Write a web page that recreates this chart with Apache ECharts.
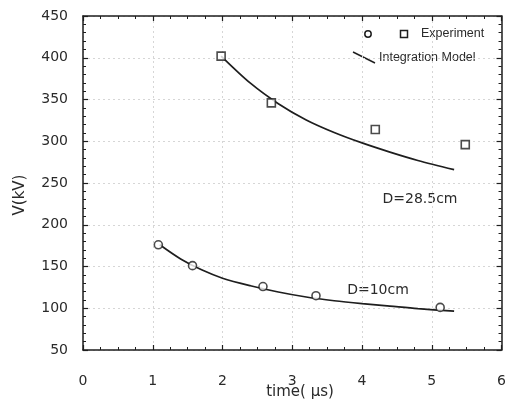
<!DOCTYPE html>
<html>
<head>
<meta charset="utf-8">
<script src="https://cdn.jsdelivr.net/npm/echarts@6/dist/echarts.min.js"></script>
<style>
  html, body { margin: 0; padding: 0; background: #fff; }
  #chart { width: 509px; height: 417px; }
</style>
</head>
<body>
<div id="chart"></div>
<script>
// Measured points, D = 10 cm (circles)
var expTime10 = [1.08, 1.57, 2.58, 3.34, 5.12];
var expVolt10 = [176, 151, 126, 115, 101];
// Measured points, D = 28.5 cm (squares)
var expTime285 = [1.98, 2.70, 4.19, 5.48];
var expVolt285 = [402, 346, 314, 296];
// Integration model curves
var modelTime10 = [1.10, 1.40, 1.70, 2.00, 2.40, 2.80, 3.20, 3.60, 4.00, 4.40, 4.80, 5.32];
var modelVolt10 = [176, 159, 146, 136, 127, 119.5, 113.5, 109, 105.5, 102.5, 99.5, 96.5];
var modelTime285 = [1.98, 2.40, 2.80, 3.20, 3.60, 4.00, 4.40, 4.80, 5.32];
var modelVolt285 = [402, 369.5, 345, 325.5, 310.5, 298, 287, 277, 266];
// Axis ticks
var xTicks = [0, 1, 2, 3, 4, 5, 6];
var yTicks = [50, 100, 150, 200, 250, 300, 350, 400, 450];

function pairs(xs, ys) {
  return xs.map(function (x, i) { return [x, ys[i]]; });
}

var ink = '#1e1e1e';
var textInk = '#2a2a2a';
var labelFont = 'DejaVu Sans';

var chart = echarts.init(document.getElementById('chart'), null, { renderer: 'canvas' });

var tickInside = { show: true, inside: true, length: 5, lineStyle: { color: ink, width: 1.2 } };
var minorInside = function (n) {
  return { show: true, splitNumber: n, length: 3, lineStyle: { color: ink, width: 1 } };
};
var gridLine = { show: true, lineStyle: { color: '#d6d6d6', type: [2, 3], width: 1 } };

var option = {
  animation: false,
  backgroundColor: '#fff',
  grid: { left: 83, right: 2, top: 16, bottom: 67, containLabel: false },
  xAxis: [{
    type: 'value',
    min: xTicks[0], max: xTicks[xTicks.length - 1], interval: 1,
    axisLine: { show: true, onZero: false, lineStyle: { color: ink, width: 1.5 } },
    axisTick: tickInside,
    minorTick: minorInside(4),
    splitLine: gridLine,
    axisLabel: { margin: 24, color: textInk, fontFamily: labelFont, fontSize: 14 }
  }, {
    type: 'value', position: 'top',
    min: xTicks[0], max: xTicks[xTicks.length - 1], interval: 1,
    axisLine: { show: true, onZero: false, lineStyle: { color: ink, width: 1.5 } },
    axisTick: tickInside,
    minorTick: minorInside(4),
    splitLine: { show: false },
    axisLabel: { show: false }
  }],
  yAxis: [{
    type: 'value',
    min: yTicks[0], max: yTicks[yTicks.length - 1], interval: 50,
    axisLine: { show: true, onZero: false, lineStyle: { color: ink, width: 1.5 } },
    axisTick: tickInside,
    minorTick: minorInside(5),
    splitLine: gridLine,
    axisLabel: { margin: 15, color: textInk, fontFamily: labelFont, fontSize: 14 }
  }, {
    type: 'value', position: 'right',
    min: yTicks[0], max: yTicks[yTicks.length - 1], interval: 50,
    axisLine: { show: true, onZero: false, lineStyle: { color: ink, width: 1.5 } },
    axisTick: tickInside,
    minorTick: minorInside(5),
    splitLine: { show: false },
    axisLabel: { show: false }
  }],
  series: [{
    name: 'Integration Model (D=28.5cm)',
    type: 'line', smooth: 0.3, showSymbol: false,
    data: pairs(modelTime285, modelVolt285),
    lineStyle: { color: ink, width: 1.7 }, z: 2
  }, {
    name: 'Integration Model (D=10cm)',
    type: 'line', smooth: 0.3, showSymbol: false,
    data: pairs(modelTime10, modelVolt10),
    lineStyle: { color: ink, width: 1.7 }, z: 2
  }, {
    name: 'Experiment (D=10cm)',
    type: 'scatter', symbol: 'circle', symbolSize: 8,
    data: pairs(expTime10, expVolt10),
    itemStyle: { color: '#fff', borderColor: ink, borderWidth: 1.6 }, z: 3
  }, {
    name: 'Experiment (D=28.5cm)',
    type: 'scatter', symbol: 'rect', symbolSize: 8,
    data: pairs(expTime285, expVolt285),
    itemStyle: { color: '#fff', borderColor: ink, borderWidth: 1.6 }, z: 3
  }],
  graphic: [
    // legend
    { type: 'circle', shape: { cx: 368, cy: 34, r: 3.2 }, style: { fill: '#fff', stroke: ink, lineWidth: 1.5 } },
    { type: 'rect', shape: { x: 400.5, y: 30.5, width: 7, height: 7 }, style: { fill: '#fff', stroke: ink, lineWidth: 1.5 } },
    { type: 'text', left: 421, top: 27, style: { text: 'Experiment', fill: textInk, font: '12.5px "Liberation Sans", Arial, sans-serif' } },
    { type: 'line', shape: { x1: 353, y1: 52, x2: 375, y2: 63 }, style: { stroke: ink, lineWidth: 1.5 } },
    { type: 'text', left: 379, top: 51, style: { text: 'Integration Model', fill: textInk, font: '12.5px "Liberation Sans", Arial, sans-serif' } },
    // curve annotations
    { type: 'text', x: 420, y: 199, style: { text: 'D=28.5cm', fill: textInk, font: '14px "DejaVu Sans", sans-serif', align: 'center', verticalAlign: 'middle' } },
    { type: 'text', x: 378, y: 290, style: { text: 'D=10cm', fill: textInk, font: '14px "DejaVu Sans", sans-serif', align: 'center', verticalAlign: 'middle' } },
    // axis titles
    { type: 'text', x: 300, y: 392, style: { text: 'time( \u03bcs)', fill: textInk, font: '15px "DejaVu Sans", sans-serif', align: 'center', verticalAlign: 'middle' } },
    { type: 'text', x: 20, y: 195, rotation: Math.PI / 2, style: { text: 'V(kV)', fill: textInk, font: '15px "DejaVu Sans", sans-serif', align: 'center', verticalAlign: 'middle' } }
  ]
};

chart.setOption(option);
</script>
</body>
</html>
